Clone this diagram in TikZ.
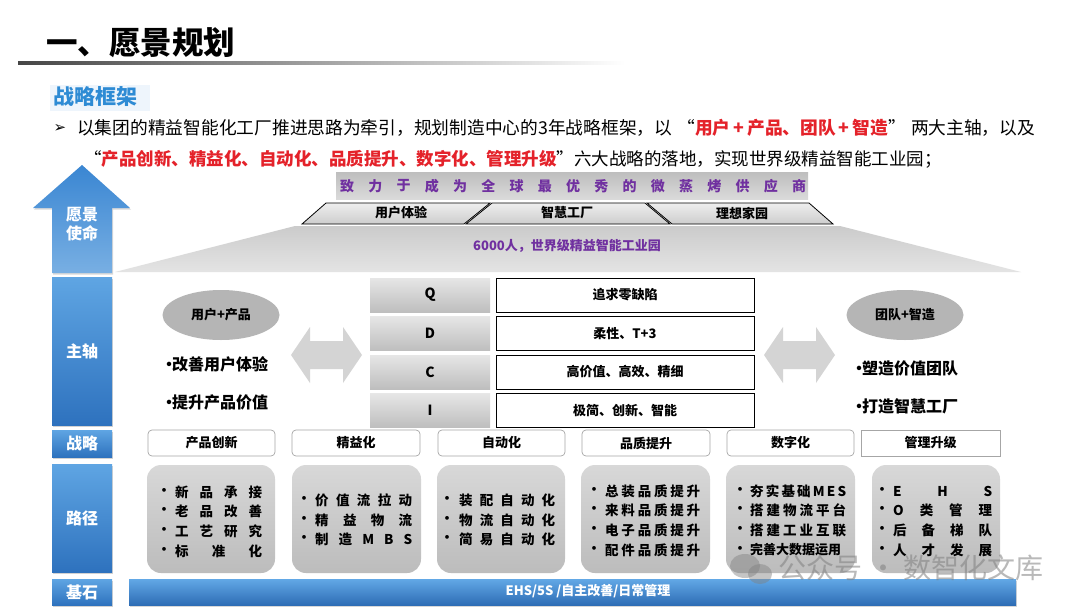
\documentclass[tikz,border=0pt]{standalone}
\usepackage{fontspec}
\usepackage{graphicx}
\setmainfont{Noto Sans CJK SC}
\newfontfamily\dejavu{DejaVu Sans}
\usetikzlibrary{shadows,shapes.geometric}
\definecolor{purp}{HTML}{7030A0}
\definecolor{redT}{HTML}{E4222A}
\definecolor{titleblue}{HTML}{2E8BD4}
\definecolor{subbg}{HTML}{EEF5FC}
\definecolor{lblTop}{HTML}{5FA5E3}
\definecolor{lblBot}{HTML}{2E72BE}
\definecolor{arrTop}{HTML}{3A86D2}
\definecolor{arrBot}{HTML}{78AFE3}
\definecolor{barTop}{HTML}{62A8E6}
\definecolor{barBot}{HTML}{2E6DB5}
\definecolor{lineDark}{HTML}{464646}
\definecolor{trapTop}{HTML}{EEEEEE}
\definecolor{trapBot}{HTML}{CDCDCD}
\definecolor{banTop}{HTML}{BEBEBE}
\definecolor{banBot}{HTML}{DADADA}
\definecolor{bigTop}{HTML}{CBCBCB}
\definecolor{bigBot}{HTML}{E4E4E4}
\definecolor{qTop}{HTML}{E6E6E6}
\definecolor{qBot}{HTML}{BEBEBE}
\definecolor{ovalC}{HTML}{B5B5B5}
\definecolor{darrC}{HTML}{D4D4D4}
\definecolor{sboxD}{HTML}{A6A6A6}
\definecolor{pTop}{HTML}{D8D8D8}
\definecolor{pBot}{HTML}{BCBCBC}
\newcommand{\fsz}[1]{\fontsize{#1}{#1}\selectfont}
\newcommand{\pline}[6]{%
  \node[ptxt,anchor=center] (#1b) at (#2,#5) {·};
  \node[ptxt,anchor=west,inner sep=0pt] (#1) at (#3,#5) {\makebox[#4pt][s]{#6}};}
\begin{document}
\begin{tikzpicture}[x=1pt,y=-1pt,
  lbl/.style={top color=lblTop, bottom color=lblBot, minimum width=60, inner sep=0pt,
    text=white, font=\fsz{16}\bfseries, drop shadow={opacity=0.35,shadow xshift=1pt,shadow yshift=-1.5pt}},
  trap/.style={draw=black, line width=0.8, top color=trapTop, bottom color=trapBot},
  qbox/.style={top color=qTop, bottom color=qBot, minimum width=120, minimum height=34, inner sep=0pt, font=\fsz{14}\bfseries},
  rbox/.style={draw=black, line width=0.8, fill=white, minimum width=258, minimum height=34, inner sep=0pt, font=\fsz{13}\bfseries},
  oval/.style={ellipse, fill=ovalC, minimum width=117, minimum height=50, inner sep=0pt, font=\fsz{13}\bfseries},
  darrow/.style={fill=darrC},
  sbox/.style={draw=sboxD, line width=0.7, fill=white, rounded corners=4, minimum height=26, inner sep=0pt, font=\fsz{13}\bfseries},
  pbox/.style={top color=pTop, bottom color=pBot, rounded corners=14, minimum height=108, inner sep=0pt},
  ptxt/.style={font=\fsz{13.5}\bfseries, inner sep=0pt},
  bul/.style={anchor=west, font=\fsz{16}\bfseries, inner sep=0pt}
]
\useasboundingbox (0,0) rectangle (1080,608);
\fill[white] (0,0) rectangle (1080,608);

% title
\node[anchor=west, font=\fsz{31.5}\bfseries, inner sep=0pt] (title) at (46,43) {一、愿景规划};
\shade[left color=lineDark, right color=white] (18,61.5) rectangle (625,64.5);

% subtitle
\fill[subbg] (50,85) rectangle (150,111);
\node[anchor=west, font=\fsz{21}\bfseries, text=titleblue, inner sep=0pt] (sub) at (53,97) {战略框架};

% intro text
\node[font=\dejavu\fsz{15}, inner sep=0pt] (arr) at (60,128) {➢};
\node[anchor=west, font=\fsz{17.5}, inner sep=0pt] (l1) at (77,128) {\resizebox{958pt}{!}{以集团的精益智能化工厂推进思路为牵引，规划制造中心的3年战略框架，以\hspace{5pt}“\textcolor{redT}{\bfseries 用户\,+\,产品、团队\,+\,智造}”\hspace{5pt}两大主轴，以及}};
\node[anchor=west, font=\fsz{17.5}, inner sep=0pt] (l2) at (84,159) {“\textcolor{redT}{\bfseries 产品创新、精益化、自动化、品质提升、数字化、管理升级}”六大战略的落地，实现世界级精益智能工业园；};

% up arrow
\path[top color=arrTop, bottom color=arrBot, drop shadow={opacity=0.3,shadow xshift=1pt,shadow yshift=-1.5pt}]
  (82,165) -- (130,208) -- (112,208) -- (112,273) -- (52,273) -- (52,208) -- (33,208) -- cycle;
\node[align=center, text=white, font=\fsz{16}\bfseries, inner sep=0pt] (vis) at (82,224) {愿景\\[3pt]使命};

% left labels
\node[lbl, minimum height=148] (zhu) at (82,351) {主轴};
\node[lbl, minimum height=27] (zl) at (82,443.5) {战略};
\node[lbl, minimum height=108] (lj) at (82,518) {路径};
\node[lbl, minimum height=26] (js) at (82,592) {基石};

% banner
\path[top color=banTop, bottom color=banBot] (336,172) rectangle (808,199);
\foreach \c [count=\i from 0] in {致,力,于,成,为,全,球,最,优,秀,的,微,蒸,烤,供,应,商}
  \node[font=\fsz{14}\bfseries, text=purp, inner sep=0pt] (m\i) at (347+\i*28.25,186) {\c};

% trapezoid row
\path[trap] (326,203) -- (490,203) -- (464,224) -- (302,224) -- cycle;
\path[trap] (492,203) -- (645,203) -- (670,224) -- (466,224) -- cycle;
\path[trap] (647,203) -- (809,203) -- (833,224) -- (672,224) -- cycle;
\node[font=\fsz{13}\bfseries, inner sep=0pt] (t1) at (401,213) {用户体验};
\node[font=\fsz{13}\bfseries, inner sep=0pt] (t2) at (567,213) {智慧工厂};
\node[font=\fsz{13}\bfseries, inner sep=0pt] (t3) at (742,213) {理想家园};

% big trapezoid
\path[top color=bigTop, bottom color=bigBot] (295,226) -- (840,226) -- (1021,272) -- (115,272) -- cycle;
\node[font=\fsz{13}\bfseries, text=purp, inner sep=0pt] (park) at (567,246) {6000人，世界级精益智能工业园};

% QDCI
\node[qbox] (q) at (430,295) {Q};
\node[qbox] (d) at (430,333.5) {D};
\node[qbox] (c) at (430,372) {C};
\node[qbox] (i) at (430,410.5) {I};
\node[rbox] (qr) at (625,295) {追求零缺陷};
\node[rbox] (dr) at (625,333.5) {柔性、T+3};
\node[rbox] (cr) at (625,372) {高价值、高效、精细};
\node[rbox] (ir) at (625,410.5) {极简、创新、智能};

% axes
\node[oval] (up) at (221,315) {用户+产品};
\node[bul] (u1) at (161,364) {·\kern-5pt 改善用户体验};
\node[bul] (u2) at (161,402) {·\kern-5pt 提升产品价值};
\node[oval] (tz) at (905,315) {团队+智造};
\node[bul] (t1b) at (851,368) {·\kern-5pt 塑造价值团队};
\node[bul] (t2b) at (851,406) {·\kern-5pt 打造智慧工厂};

\path[darrow] (291,355) -- (310,327) -- (310,341) -- (343,341) -- (343,327) -- (362,355) -- (343,383) -- (343,369) -- (310,369) -- (310,383) -- cycle;
\path[darrow] (764,355) -- (783,327) -- (783,341) -- (816,341) -- (816,327) -- (835,355) -- (816,383) -- (816,369) -- (783,369) -- (783,383) -- cycle;

% strategies
\node[sbox, minimum width=127] (s1) at (211.5,443) {产品创新};
\node[sbox, minimum width=128] (s2) at (356,443) {精益化};
\node[sbox, minimum width=127] (s3) at (501.5,443) {自动化};
\node[sbox, minimum width=128] (s4) at (646,443) {品质提升};
\node[sbox, minimum width=127] (s5) at (790.5,443) {数字化};
\node[sbox, rounded corners=0, minimum width=139, drop shadow={opacity=0.25,shadow xshift=1pt,shadow yshift=-1pt}] (s6) at (930.5,443) {管理升级};

% path boxes
\node[pbox, minimum width=128] (p1) at (211,519) {};
\node[pbox, minimum width=129] (p2) at (356.5,519) {};
\node[pbox, minimum width=128] (p3) at (501,519) {};
\node[pbox, minimum width=129] (p4) at (645.5,519) {};
\node[pbox, minimum width=129] (p5) at (790.5,519) {};
\node[pbox, minimum width=128] (p6) at (936,519) {};

\pline{a1}{164}{175}{87}{492}{新\hfill 品\hfill 承\hfill 接}
\pline{a2}{164}{175}{87}{511}{老\hfill 品\hfill 改\hfill 善}
\pline{a3}{164}{175}{87}{531}{工\hfill 艺\hfill 研\hfill 究}
\pline{a4}{164}{175}{87}{551}{标\hfill 准\hfill 化}

\pline{b1}{304}{315}{97}{500}{价\hfill 值\hfill 流\hfill 拉\hfill 动}
\pline{b2}{304}{315}{97}{520}{精\hfill 益\hfill 物\hfill 流}
\pline{b3}{304}{315}{97}{539}{制\hfill 造\hfill M\hfill B\hfill S}

\pline{c1}{447}{459}{96}{500}{装\hfill 配\hfill 自\hfill 动\hfill 化}
\pline{c2}{447}{459}{96}{520}{物\hfill 流\hfill 自\hfill 动\hfill 化}
\pline{c3}{447}{459}{96}{539}{简\hfill 易\hfill 自\hfill 动\hfill 化}

\pline{e1}{594}{605}{95}{491}{总\hfill 装\hfill 品\hfill 质\hfill 提\hfill 升}
\pline{e2}{594}{605}{95}{510}{来\hfill 料\hfill 品\hfill 质\hfill 提\hfill 升}
\pline{e3}{594}{605}{95}{530}{电\hfill 子\hfill 品\hfill 质\hfill 提\hfill 升}
\pline{e4}{594}{605}{95}{550}{配\hfill 件\hfill 品\hfill 质\hfill 提\hfill 升}

\pline{f1}{740}{750}{96}{491}{夯\hfill 实\hfill 基\hfill 础\hfill M\hfill E\hfill S}
\pline{f2}{740}{750}{96}{510}{搭\hfill 建\hfill 物\hfill 流\hfill 平\hfill 台}
\pline{f3}{740}{750}{96}{530}{搭\hfill 建\hfill 工\hfill 业\hfill 互\hfill 联}
\pline{f4}{740}{750}{96}{550}{\fsz{13}完善大数据运用}

\pline{g1}{882}{893}{99}{491}{E\hfill H\hfill S}
\pline{g2}{882}{893}{99}{510}{O\hfill 类\hfill 管\hfill 理}
\pline{g3}{882}{893}{99}{530}{后\hfill 备\hfill 梯\hfill 队}
\pline{g4}{882}{893}{99}{550}{人\hfill 才\hfill 发\hfill 展}

% foundation bar
\node[top color=barTop, bottom color=barBot, minimum width=887, minimum height=26, inner sep=0pt,
  drop shadow={opacity=0.3,shadow xshift=1pt,shadow yshift=-1.5pt}] (bar) at (572.5,592) {};
\node[text=white, font=\fsz{13}\bfseries, inner sep=0pt] (bartxt) at (588,591) {EHS/5S /自主改善/日常管理};

% watermark
\fill[gray, opacity=0.45] (745,566) ellipse (15 and 12);
\fill[gray, opacity=0.45] (760,574) ellipse (12 and 10);
\node[font=\fsz{28}, text=gray, opacity=0.55, inner sep=0pt] (wm) at (911,568) {公众号 · 数智化文库};
\end{tikzpicture}
\end{document}
